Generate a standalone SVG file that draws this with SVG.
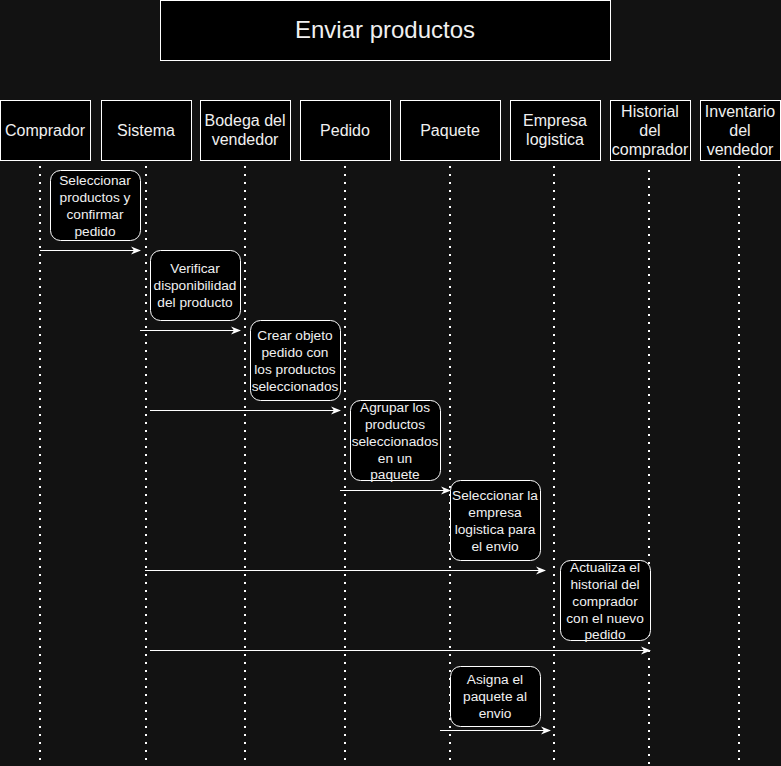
<svg xmlns="http://www.w3.org/2000/svg" width="781" height="766" viewBox="0 0 781 766">
<defs>
<style>
.bg{fill:#121212}
.box{fill:#000;stroke:#fff;stroke-width:1}
.act{fill:#000;stroke:#fff;stroke-width:1}
.life{stroke:#fff;stroke-width:2;stroke-dasharray:2 6;fill:none}
.msg{stroke:#fff;stroke-width:1;fill:none}
text{font-family:"Liberation Sans",Arial,Helvetica,sans-serif;fill:#f0f0f0;text-anchor:middle}
.h{font-size:16px}
.a{font-size:13.7px}
.t{font-size:24px}
</style>
<marker id="arr" viewBox="0 0 10 10" refX="9" refY="5" markerWidth="10" markerHeight="10" markerUnits="userSpaceOnUse" orient="auto">
<path d="M0,1 L10,5 L0,9 L3,5 Z" fill="#fff"/>
</marker>
</defs>
<rect class="bg" x="0" y="0" width="781" height="766"/>

<g id="title">
<rect class="box" x="160.5" y="0.5" width="450" height="60"/>
<text class="t" x="385" y="38">Enviar productos</text>
</g>

<g id="lifelines">
<line class="life" x1="40" y1="166" x2="40" y2="766"/>
<line class="life" x1="146" y1="166" x2="146" y2="766"/>
<line class="life" x1="245" y1="166" x2="245" y2="766"/>
<line class="life" x1="345" y1="166" x2="345" y2="766"/>
<line class="life" x1="450" y1="166" x2="450" y2="766"/>
<line class="life" x1="554" y1="166" x2="554" y2="766"/>
<line class="life" x1="649" y1="170" x2="649" y2="766"/>
<line class="life" x1="739" y1="166" x2="739" y2="766"/>
</g>

<g id="comprador">
<rect class="box" x="0.5" y="100.5" width="90" height="60"/>
<text class="h" x="45" y="136">Comprador</text>
</g>
<g id="sistema">
<rect class="box" x="101.5" y="100.5" width="90" height="60"/>
<text class="h" x="146" y="136">Sistema</text>
</g>
<g id="bodega">
<rect class="box" x="200.5" y="100.5" width="90" height="60"/>
<text class="h" x="245" y="126">Bodega del</text>
<text class="h" x="245" y="145">vendedor</text>
</g>
<g id="pedido">
<rect class="box" x="300.5" y="100.5" width="90" height="60"/>
<text class="h" x="345" y="136">Pedido</text>
</g>
<g id="paquete">
<rect class="box" x="400.5" y="100.5" width="100" height="60"/>
<text class="h" x="450" y="136">Paquete</text>
</g>
<g id="empresa">
<rect class="box" x="510.5" y="100.5" width="90" height="60"/>
<text class="h" x="555" y="126">Empresa</text>
<text class="h" x="555" y="145">logistica</text>
</g>
<g id="historial">
<rect class="box" x="610.5" y="100.5" width="80" height="60"/>
<text class="h" x="650" y="117">Historial</text>
<text class="h" x="650" y="136">del</text>
<text class="h" x="650" y="155">comprador</text>
</g>
<g id="inventario">
<rect class="box" x="700.5" y="100.5" width="80" height="60"/>
<text class="h" x="740" y="117">Inventario</text>
<text class="h" x="740" y="136">del</text>
<text class="h" x="740" y="155">vendedor</text>
</g>

<g id="act1">
<rect class="act" x="50.5" y="170.5" width="90" height="70" rx="10"/>
<text class="a" x="95" y="185">Seleccionar</text>
<text class="a" x="95" y="202">productos y</text>
<text class="a" x="95" y="219">confirmar</text>
<text class="a" x="95" y="236">pedido</text>
</g>
<g id="act2">
<rect class="act" x="150.5" y="250.5" width="90" height="70" rx="10"/>
<text class="a" x="195" y="273">Verificar</text>
<text class="a" x="195" y="290">disponibilidad</text>
<text class="a" x="195" y="307">del producto</text>
</g>
<g id="act3">
<rect class="act" x="250.5" y="320.5" width="90" height="80" rx="10"/>
<text class="a" x="295" y="340">Crear objeto</text>
<text class="a" x="295" y="357">pedido con</text>
<text class="a" x="295" y="374">los productos</text>
<text class="a" x="295" y="391">seleccionados</text>
</g>
<g id="act4">
<rect class="act" x="350.5" y="400.5" width="90" height="80" rx="10"/>
<text class="a" x="395" y="412">Agrupar los</text>
<text class="a" x="395" y="429">productos</text>
<text class="a" x="395" y="446">seleccionados</text>
<text class="a" x="395" y="463">en un</text>
<text class="a" x="395" y="479">paquete</text>
</g>
<g id="act5">
<rect class="act" x="450.5" y="480.5" width="90" height="80" rx="10"/>
<text class="a" x="495" y="500">Seleccionar la</text>
<text class="a" x="495" y="517">empresa</text>
<text class="a" x="495" y="534">logistica para</text>
<text class="a" x="495" y="551">el envio</text>
</g>
<g id="act6">
<rect class="act" x="560.5" y="560.5" width="90" height="80" rx="10"/>
<text class="a" x="605" y="572">Actualiza el</text>
<text class="a" x="605" y="589">historial del</text>
<text class="a" x="605" y="606">comprador</text>
<text class="a" x="605" y="623">con el nuevo</text>
<text class="a" x="605" y="639">pedido</text>
</g>
<g id="act7">
<rect class="act" x="450.5" y="666.5" width="90" height="60" rx="10"/>
<text class="a" x="495" y="684">Asigna el</text>
<text class="a" x="495" y="701">paquete al</text>
<text class="a" x="495" y="718">envio</text>
</g>

<g id="connectors">
<line class="msg" x1="40" y1="250.5" x2="140" y2="250.5" marker-end="url(#arr)"/>
<line class="msg" x1="140" y1="330.5" x2="240" y2="330.5" marker-end="url(#arr)"/>
<line class="msg" x1="150" y1="410.5" x2="340" y2="410.5" marker-end="url(#arr)"/>
<line class="msg" x1="340" y1="490.5" x2="450" y2="490.5" marker-end="url(#arr)"/>
<line class="msg" x1="145" y1="570.5" x2="545" y2="570.5" marker-end="url(#arr)"/>
<line class="msg" x1="150" y1="650.5" x2="650" y2="650.5" marker-end="url(#arr)"/>
<line class="msg" x1="440" y1="730.5" x2="550" y2="730.5" marker-end="url(#arr)"/>
</g>
</svg>
